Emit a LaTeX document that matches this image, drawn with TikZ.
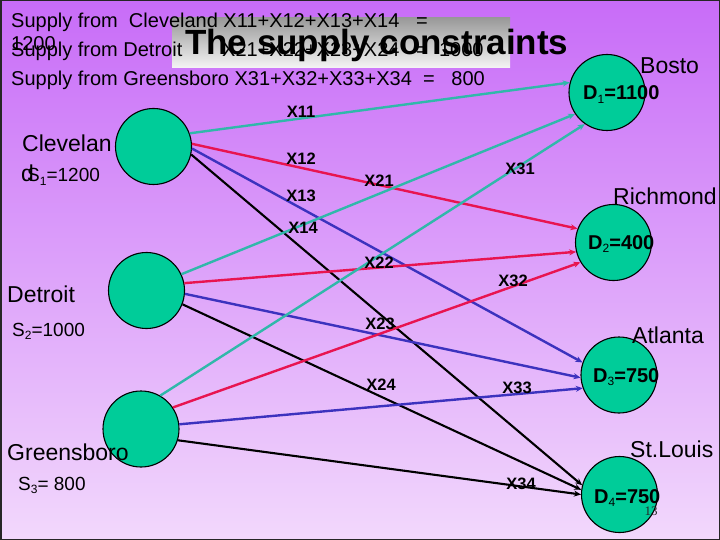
\documentclass[tikz,border=0pt]{standalone}
\usepackage{fontspec}
\setmainfont{Liberation Sans}
\newfontfamily\serifpn{Liberation Serif}
\usetikzlibrary{arrows.meta}
\definecolor{bgtop}{RGB}{200,108,248}
\definecolor{bgbot}{RGB}{242,216,252}
\definecolor{nodegreen}{RGB}{0,204,153}
\definecolor{cteal}{RGB}{48,184,170}
\definecolor{cred}{RGB}{232,20,80}
\definecolor{cblue}{RGB}{60,50,190}
\newcommand{\fsz}[1]{\fontsize{#1}{#1}\selectfont}
\newcommand{\lowsub}[1]{\raisebox{-0.35ex}{\fontsize{12}{12}\selectfont\mdseries #1}}
\begin{document}
\begin{tikzpicture}[x=1pt,y=-1pt,
  city/.style={circle,draw=black,line width=1.1pt,fill=nodegreen,minimum size=76pt,inner sep=0pt},
  txt/.style={inner sep=0pt,anchor=base west,font=\fsz{20}},
  place/.style={inner sep=0pt,anchor=base west,font=\fsz{23}},
  supply/.style={inner sep=0pt,anchor=base west,font=\fsz{19}},
  demand/.style={inner sep=0pt,anchor=base west,font=\bfseries\fsz{20}},
  elabel/.style={inner sep=0pt,font=\bfseries\fsz{16.5}},
  flow/.style={line width=2.4pt,-{Stealth[length=7pt,width=6pt]}},
  blackflow/.style={line width=2.1pt,-{Stealth[length=7pt,width=6pt]}}
  ]
\useasboundingbox (0,0) rectangle (720,540);
\shade[top color=bgtop,bottom color=bgbot] (0,0) rectangle (720,540);
\draw[line width=1.5pt,draw=black!85] (0.75,0.75) rectangle (719.25,539.25);

% title box
\shade[top color=black!40,bottom color=black!4] (172,18) rectangle (510,68);

% supply text lines
\node[txt] (l1) at (11,28) {Supply from\ \ Cleveland X11+X12+X13+X14\ \ \ =};
\node[txt] (l1b) at (11,51) {1200};
\node[txt] (l2) at (11,57) {Supply from Detroit};
\node[txt] (l2b) at (222,57) {X21+X22+X23+X24\ \ \ =\ \ 1000};
\node[txt] (l3) at (11,86) {Supply from Greensboro X31+X32+X33+X34\ \ =\ \ \ 800};
\node[inner sep=0pt,anchor=base west,font=\bfseries\fsz{35}] (title) at (185,55) {The supply constraints};

% city nodes
\node[city] (cle) at (153.5,146.5) {};
\node[city] (det) at (146.5,290.5) {};
\node[city] (gre) at (141,429) {};
\node[city] (bos) at (607,92.5) {};
\node[city] (ric) at (613.5,242.5) {};
\node[city] (atl) at (619,375) {};
\node[city] (stl) at (619.5,494.5) {};

% flows
\draw[flow,cteal] (cle.20.5) -- (bos.165);
\draw[flow,cred] (cle.4.8) -- (ric.159.4);
\draw[flow,cblue] (cle.-3.4) -- (atl.161.6);
\draw[blackflow,black] (cle.-12.9) -- (stl.166.6);
\draw[flow,cteal] (det.25.6) -- (bos.214.3);
\draw[flow,cred] (det.11.9) -- (ric.194);
\draw[flow,cblue] (det.-5.2) -- (atl.184.6);
\draw[blackflow,black] (det.-21.9) -- (stl.173);
\draw[flow,cteal] (gre.60.8) -- (bos.235.9);
\draw[flow,cred] (gre.34.1) -- (ric.211.5);
\draw[flow,cblue] (gre.7) -- (atl.200.6);
\draw[blackflow,black] (gre.-17.6) -- (stl.180.8);

% edge labels
\node[elabel] (x11) at (301,111.5) {X11};
\node[elabel] (x12) at (301,159) {X12};
\node[elabel] (x13) at (301,196) {X13};
\node[elabel] (x14) at (303,228) {X14};
\node[elabel] (x21) at (379,181) {X21};
\node[elabel] (x31) at (520,169) {X31};
\node[elabel] (x22) at (379,263) {X22};
\node[elabel] (x32) at (513,281) {X32};
\node[elabel] (x23) at (380,324) {X23};
\node[elabel] (x24) at (381,385) {X24};
\node[elabel] (x33) at (517,388) {X33};
\node[elabel] (x34) at (521,484) {X34};

% source labels
\node[place] (clel) at (22,152) {Clevelan};
\node[place] (cled) at (21,182) {d};
\node[supply] (s1) at (27,182) {S\lowsub{1}=1200};
\node[place] (detl) at (7,302) {Detroit};
\node[supply] (s2) at (12,336) {S\lowsub{2}=1000};
\node[place] (grel) at (7,460) {Greensboro};
\node[supply] (s3) at (18,490) {S\lowsub{3}= 800};

% destination labels
\node[place] (bosl) at (640,74) {Bosto};
\node[demand] (d1) at (583,100) {D\lowsub{1}=1100};
\node[place] (ricl) at (613,205) {Richmond};
\node[demand] (d2) at (588,249) {D\lowsub{2}=400};
\node[place] (atll) at (632,343) {Atlanta};
\node[demand] (d3) at (593,382) {D\lowsub{3}=750};
\node[place] (stll) at (630,457) {St.Louis};
\node[demand] (d4) at (594,503) {D\lowsub{4}=750};
\node[inner sep=0pt,font=\serifpn\fsz{13},text=black!85] (pg) at (651,511) {13};
\end{tikzpicture}
\end{document}
